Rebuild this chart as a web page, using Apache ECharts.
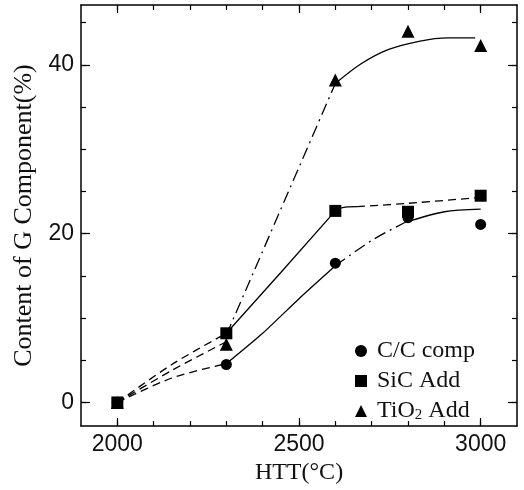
<!DOCTYPE html>
<html>
<head>
<meta charset="utf-8">
<script src="https://cdn.jsdelivr.net/npm/echarts@6/dist/echarts.min.js"></script>
<style>
html, body { margin: 0; padding: 0; background: #fff; }
#chart { width: 524px; height: 490px; }
</style>
</head>
<body>
<div id="chart"></div>
<script>
// measured points
var years = [2000, 2300, 2600, 2800, 3000];
var ccComp = [0, 4.5, 16.5, 21.9, 21.1];
var sicAdd = [0, 8.2, 22.7, 22.6, 24.5];
var tio2Add = [0, 6.9, 38.2, 44.0, 42.3];

// hand drawn guide curves
var ccDash = [[2000, 0], [2150, 2.9], [2300, 4.6]];
var ccSolidA = [[2300, 4.6], [2400, 8.2], [2500, 12.3], [2600, 16.2]];
var ccDashDot = [[2600, 16.2], [2700, 19.2], [2790, 21.3]];
var ccSolidB = [[2790, 21.3], [2900, 22.6], [3000, 22.9]];

var sicDash = [[2000, 0], [2150, 4.5], [2300, 8.2]];
var sicSolid = [[2300, 8.2], [2450, 15.4], [2600, 22.7]];
var sicFlat = [[2600, 22.7], [2620, 23.1], [2660, 23.2]];
var sicDash2 = [[2660, 23.2], [2800, 23.6], [3000, 24.3]];

var tiDash = [[2000, 0], [2150, 3.8], [2300, 7.2]];
var tiDashDot = [[2300, 8.0], [2450, 22.9], [2600, 37.8]];
var tiSolid = [[2600, 37.8], [2670, 40.1], [2745, 41.8], [2830, 42.8], [2910, 43.2], [2985, 43.2]];

// axis ticks and labels
var xMajor = [2000, 2500, 3000];
var xMinor = [2000, 2100, 2200, 2300, 2400, 2500, 2600, 2700, 2800, 2900, 3000];
var yMajor = [0, 20, 40];
var yMinor = [0, 5, 10, 15, 20, 25, 30, 35, 40, 45];

var black = '#000';
var serif = 'Liberation Serif';

function pairs(xs, ys) {
	var out = [];
	for (var i = 0; i < xs.length; i++) out.push([xs[i], ys[i]]);
	return out;
}

function tickAxis(pos, min, max, ticks, len, showLine) {
	return {
		type: 'value', position: pos, min: min, max: max,
		axisLine: { show: showLine, onZero: false, lineStyle: { color: black, width: 1.5 } },
		axisTick: { show: true, inside: true, length: len, customValues: ticks, lineStyle: { color: black, width: 1.2 } },
		axisLabel: { show: false },
		splitLine: { show: false }
	};
}

function seg(data, type, smooth) {
	return {
		type: 'line', data: data, smooth: smooth, symbol: 'none', silent: true, z: 3,
		lineStyle: { color: black, width: 1.3, type: type }
	};
}

var dashed = [8, 5];
var dashDot = [12, 5, 2, 5];
var plain = function (v) { return String(v); };

var xMain = tickAxis('bottom', 1900, 3100, xMajor, 8, true);
xMain.axisLabel = { show: true, customValues: xMajor, formatter: plain, margin: 7, fontSize: 23, fontFamily: 'Liberation Sans', color: '#111' };
xMain.name = 'HTT(°C)';
xMain.nameLocation = 'middle';
xMain.nameGap = 26;
xMain.nameTextStyle = { fontSize: 24, fontFamily: serif, color: '#111' };

var yMain = tickAxis('left', -2.8, 47.1, yMajor, 9, true);
yMain.axisLabel = { show: true, customValues: yMajor, formatter: plain, margin: 7, fontSize: 23, fontFamily: 'Liberation Sans', color: '#111' };
yMain.name = 'Content of G Component(%)';
yMain.nameLocation = 'middle';
yMain.nameGap = 42;
yMain.nameTextStyle = { fontSize: 26, fontFamily: serif, color: '#111' };

var dot = { color: black, opacity: 1 };

var chart = echarts.init(document.getElementById('chart'));
chart.setOption({
	backgroundColor: '#fff',
	animation: false,
	grid: { left: 81, right: 7, top: 5, bottom: 55 },
	xAxis: [
		xMain,
		tickAxis('bottom', 1900, 3100, xMinor, 5, false),
		tickAxis('top', 1900, 3100, xMajor, 8, true),
		tickAxis('top', 1900, 3100, xMinor, 5, false)
	],
	yAxis: [
		yMain,
		tickAxis('left', -2.8, 47.1, yMinor, 5, false),
		tickAxis('right', -2.8, 47.1, yMajor, 9, true),
		tickAxis('right', -2.8, 47.1, yMinor, 5, false)
	],
	legend: {
		data: [
			{ name: 'C/C comp', icon: 'circle' },
			{ name: 'SiC Add', icon: 'rect' },
			{ name: 'TiO2 Add', icon: 'triangle' }
		],
		orient: 'vertical', left: 350, top: 334,
		itemWidth: 12, itemHeight: 12, itemGap: 6, selectedMode: false,
		itemStyle: { color: black, opacity: 1 },
		formatter: function (n) {
			if (n === 'TiO2 Add') return '{f|TiO}{s|2}{n| Add}';
			return '{f|' + n + '}';
		},
		textStyle: {
			rich: {
				f: { fontSize: 24, fontFamily: serif, color: '#111', lineHeight: 24, padding: [0, 0, 0, 5] },
				n: { fontSize: 24, fontFamily: serif, color: '#111', lineHeight: 24 },
				s: { fontSize: 15, fontFamily: serif, color: '#111', lineHeight: 12, verticalAlign: 'bottom' }
			}
		}
	},
	series: [
		seg(ccDash, dashed, 0.3), seg(ccSolidA, 'solid', 0.2), seg(ccDashDot, dashDot, 0.3), seg(ccSolidB, 'solid', 0.3),
		seg(sicDash, dashed, 0.3), seg(sicSolid, 'solid', false), seg(sicFlat, 'solid', 0.3), seg(sicDash2, dashed, 0.3),
		seg(tiDash, dashed, 0.3), seg(tiDashDot, dashDot, false), seg(tiSolid, 'solid', 0.3),
		{ type: 'scatter', name: 'C/C comp', symbol: 'circle', symbolSize: 11, z: 5, data: pairs(years, ccComp), itemStyle: dot },
		{ type: 'scatter', name: 'TiO2 Add', symbol: 'triangle', symbolSize: 13, z: 5, data: pairs(years, tio2Add), itemStyle: dot },
		{ type: 'scatter', name: 'SiC Add', symbol: 'rect', symbolSize: 12, z: 6, data: pairs(years, sicAdd), itemStyle: dot }
	]
});
</script>
</body>
</html>
